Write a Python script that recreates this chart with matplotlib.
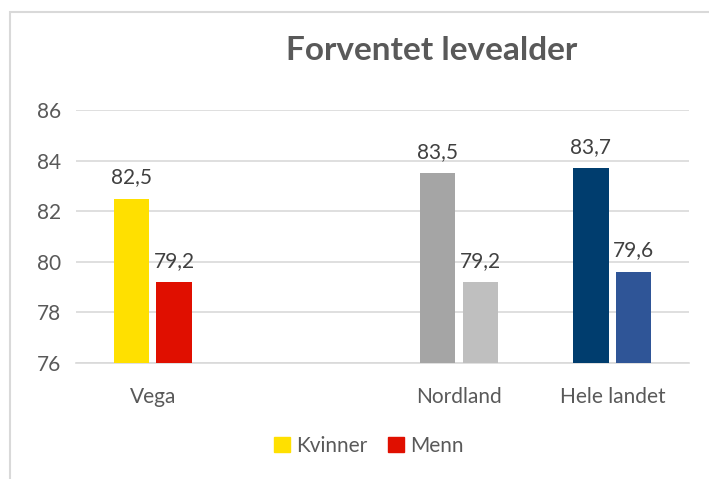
import numpy as np
import matplotlib.pyplot as plt
from matplotlib.patches import Rectangle, Patch

categories = ["Vega", "", "Nordland", "Hele landet"]
kvinner = [82.5, np.nan, 83.5, 83.7]
menn = [79.2, np.nan, 79.2, 79.6]
kvinner_colors = ["#FFE000", "#FFE000", "#A5A5A5", "#003D6E"]
menn_colors = ["#E00F00", "#E00F00", "#BFBFBF", "#2F5597"]
labels = ["Kvinner", "Menn"]

plt.rcParams['font.family'] = ['Lato', 'DejaVu Sans']
W, H = 709, 479
fig = plt.figure(figsize=(W / 100, H / 100), dpi=100)

# chart frame (cut at right/bottom like the screenshot)
fig.patches.append(Rectangle((10 / W, -0.1), 1.2, 1 - 12 / H + 0.1, transform=fig.transFigure,
                             fill=False, edgecolor="#D9D9D9", linewidth=1.5))

ax = fig.add_axes([76 / W, 1 - 363 / H, (689 - 76) / W, (363 - 110) / H])
x = np.arange(len(categories))
bw = 0.23
off = 0.14
base = 76
for i in range(len(categories)):
    if np.isnan(kvinner[i]):
        continue
    ax.bar(x[i] - off, kvinner[i] - base, bw, bottom=base, color=kvinner_colors[i], zorder=3)
    ax.bar(x[i] + off, menn[i] - base, bw, bottom=base, color=menn_colors[i], zorder=3)
    ax.text(x[i] - off, kvinner[i] + 0.45, f"{kvinner[i]:.1f}".replace(".", ","),
            ha="center", va="bottom", fontsize=15, color="#404040")
    ax.text(x[i] + off, menn[i] + 0.45, f"{menn[i]:.1f}".replace(".", ","),
            ha="center", va="bottom", fontsize=15, color="#404040")

ax.set_xlim(-0.5, len(categories) - 0.5)
ax.set_ylim(76, 86)
ax.set_yticks(np.arange(76, 87, 2))
ax.set_xticks(x)
ax.set_xticklabels(categories)
ax.grid(axis="y", color="#D9D9D9", linewidth=1.2, zorder=0)
for s in ["top", "right", "left"]:
    ax.spines[s].set_visible(False)
ax.spines["bottom"].set_color("#D9D9D9")
ax.spines["bottom"].set_linewidth(1.2)
ax.tick_params(axis="both", length=0, labelsize=15, labelcolor="#595959")
ax.tick_params(axis="x", pad=17)
ax.tick_params(axis="y", pad=28)
for t in ax.get_yticklabels():
    t.set_horizontalalignment("left")

fig.text(432 / W, 1 - 50 / H, "Forventet levealder", ha="center", va="center",
         fontsize=24, fontweight="bold", color="#595959")

handles = [Patch(color=kvinner_colors[0]), Patch(color=menn_colors[0])]
fig.legend(handles, labels, loc="center", bbox_to_anchor=(369 / W, 1 - 446 / H), ncol=2,
           frameon=False, fontsize=15, labelcolor="#595959", handlelength=0.75, handleheight=0.75,
           handletextpad=0.3, columnspacing=1.0)

fig.savefig("out.png", dpi=100, facecolor="white")
